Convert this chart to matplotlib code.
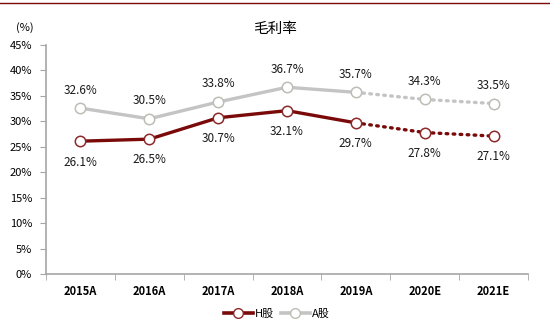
import matplotlib
matplotlib.use("Agg")
import matplotlib.pyplot as plt
from matplotlib.lines import Line2D

plt.rcParams['font.family'] = ['Noto Sans CJK SC', 'DejaVu Sans']

years = ["2015A", "2016A", "2017A", "2018A", "2019A", "2020E", "2021E"]
h_share = [26.1, 26.5, 30.7, 32.1, 29.7, 27.8, 27.1]
a_share = [32.6, 30.5, 33.8, 36.7, 35.7, 34.3, 33.5]
n_actual = 5  # first five years are reported, the rest are estimates

H_COLOR = "#7A0A0A"
A_COLOR = "#C4C4C4"
AXIS_COLOR = "#A6A6A6"

fig = plt.figure(figsize=(5.5, 3.25), dpi=100)
ax = fig.add_axes([46/550, 1-274/325, 482/550, 229/325])

x = list(range(len(years)))

def draw_series(vals, color, edge, above):
    ax.plot(x[:n_actual], vals[:n_actual], color=color, lw=2.4, solid_capstyle='butt', zorder=2)
    ax.plot(x[n_actual-1:], vals[n_actual-1:], color=color, lw=2.4, ls=(0, (0.5, 1.6)),
            dash_capstyle='round', zorder=2)
    ax.plot(x, vals, ls='none', marker='o', ms=7.5, mfc='white', mec=edge, mew=1.1, zorder=3)
    for xi, v in zip(x, vals):
        off = 13 if above else -15
        ax.annotate(f"{v:.1f}%", (xi, v), xytext=(0, off), textcoords='offset points',
                    ha='center', va='center', fontsize=8.5, color='#1a1a1a')

draw_series(a_share, A_COLOR, "#BDBDB5", True)
draw_series(h_share, H_COLOR, "#8C2A2A", False)

ax.set_xlim(-0.5, len(years) - 0.5)
ax.set_ylim(0, 45)
ax.set_yticks(range(0, 46, 5))
ax.set_yticklabels([f"{v}%" for v in range(0, 46, 5)], fontsize=8)
ax.set_xticks(x)
ax.set_xticklabels(years, fontsize=8, fontweight='bold')
ax.tick_params(axis='x', length=0, pad=8)
ax.set_xticks([i - 0.5 for i in range(len(years) + 1)], minor=True)
ax.tick_params(axis='x', which='minor', length=4, color=AXIS_COLOR, direction='out')
ax.tick_params(axis='y', length=4, color=AXIS_COLOR, direction='out', pad=6)
for s in ['top', 'right']:
    ax.spines[s].set_visible(False)
for s in ['left', 'bottom']:
    ax.spines[s].set_color(AXIS_COLOR)
    ax.spines[s].set_linewidth(1.2)

fig.text(275/550, 1-29/325, "毛利率", ha='center', va='center', fontsize=10.5)
fig.text(25/550, 1-28/325, "(%)", ha='center', va='center', fontsize=8)

fig.add_artist(Line2D([0, 1], [1-3/325, 1-3/325], color="#7A0A0A", lw=1))

handles = [
    Line2D([], [], color=H_COLOR, lw=2.6, marker='o', ms=7, mfc='white', mec="#8C2A2A"),
    Line2D([], [], color=A_COLOR, lw=2.6, marker='o', ms=7, mfc='white', mec="#BDBDB5"),
]
fig.legend(handles, ["H股", "A股"], loc='center', bbox_to_anchor=(277/550, 1-314/325),
           ncol=2, frameon=False, fontsize=8, handlelength=2.6, handletextpad=0.2,
           columnspacing=0.6)

fig.savefig("out.png", dpi=100)
